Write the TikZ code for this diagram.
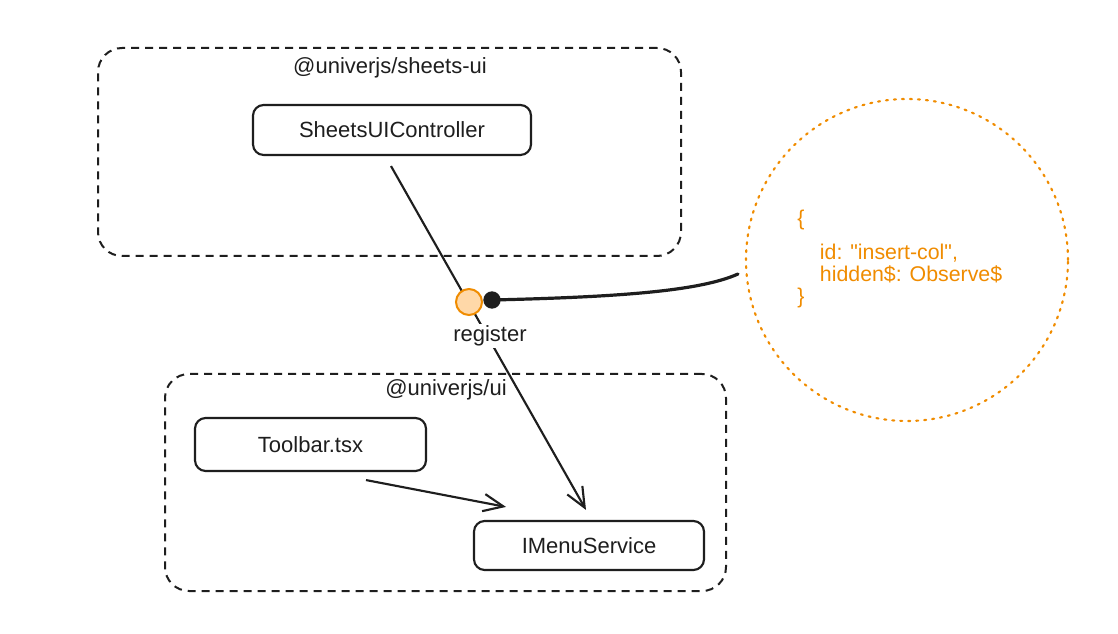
\documentclass[tikz,border=0pt]{standalone}
\usepackage{fontspec}
\setmainfont{Liberation Sans}
\newfontfamily\codefont{Liberation Sans}
\usetikzlibrary{arrows.meta,calc}
\definecolor{exorange}{HTML}{F08C00}
\definecolor{exfill}{HTML}{FFD8A8}
\definecolor{ink}{HTML}{1E1E1E}
\tikzset{
  txt/.style={font=\fontsize{16.5}{19}\selectfont, text=ink},
  pkg/.style={draw=ink, line width=1.5pt, dash pattern=on 6pt off 4.5pt, rounded corners=18pt, inner sep=0pt},
  box/.style={draw=ink, line width=1.6pt, rounded corners=8pt, inner sep=0pt, txt},
  arr/.style={draw=ink, line width=1.6pt, -{Straight Barb[length=15pt,width=13pt,line width=1.6pt]}},
  conn/.style={draw=ink, line width=2.4pt, line cap=round},
}
\begin{document}
\begin{tikzpicture}[x=0.75pt,y=-0.75pt]
\useasboundingbox (0,0) rectangle (1118,634);
\fill[white] (0,0) rectangle (1118,634);

% packages
\node[pkg, minimum width=437.25pt, minimum height=156pt] (pkgA) at (389.5,152) {};
\node[txt] (pkgAlab) at (390,68) {@univerjs/sheets-ui};
\node[pkg, minimum width=420.75pt, minimum height=162.75pt] (pkgB) at (445.5,482.5) {};
\node[txt] (pkgBlab) at (446,390) {@univerjs/ui};

% boxes
\node[box, minimum width=208.5pt, minimum height=37.5pt] (ctrl) at (392,130) {SheetsUIController};
\node[box, minimum width=173.25pt, minimum height=39.75pt] (toolbar) at (310.5,444.5) {Toolbar.tsx};
\node[box, minimum width=172.5pt, minimum height=36.75pt] (menu) at (589,545.5) {IMenuService};

% main arrow
\coordinate (a1) at ($(ctrl.south)+(-1,10)$);
\coordinate (a2) at ($(menu.north)+(-3,-10)$);
\draw[arr] (a1) -- (a2);

% toolbar arrow
\coordinate (b1) at ($(toolbar.south)+(55.5,8)$);
\coordinate (b2) at ($(menu.north)+(-83,-13)$);
\draw[arr] (b1) -- (b2);

% register marker
\node[circle, draw=exorange, fill=exfill, line width=1.5pt, minimum size=19.5pt, inner sep=0pt] (reg) at (469,302) {};
\node[txt, fill=white, inner sep=1pt] (reglab) at (490,336) {register};

% code bubble
\node[circle, draw=exorange, line width=1.6pt, dash pattern=on 1.5pt off 4.5pt, line cap=round, minimum size=241.5pt, inner sep=0pt] (code) at (907,260) {};
\node[anchor=north west, align=left, inner sep=0pt, text=exorange, font=\codefont\fontsize{16}{16.5}\selectfont] (codetxt) at (797,210)
  {\{\\[9pt]\hspace*{17pt}id: "insert-col",\\\hspace*{17pt}hidden\$: Observe\$\\\}};

% connector with dot
\node[circle, fill=ink, minimum size=13pt, inner sep=0pt] (dot) at (492,300) {};
\coordinate (cend) at (738,274);
\draw[conn] (dot.center) .. controls (620,297) and (700,291) .. (cend);
\end{tikzpicture}
\end{document}
